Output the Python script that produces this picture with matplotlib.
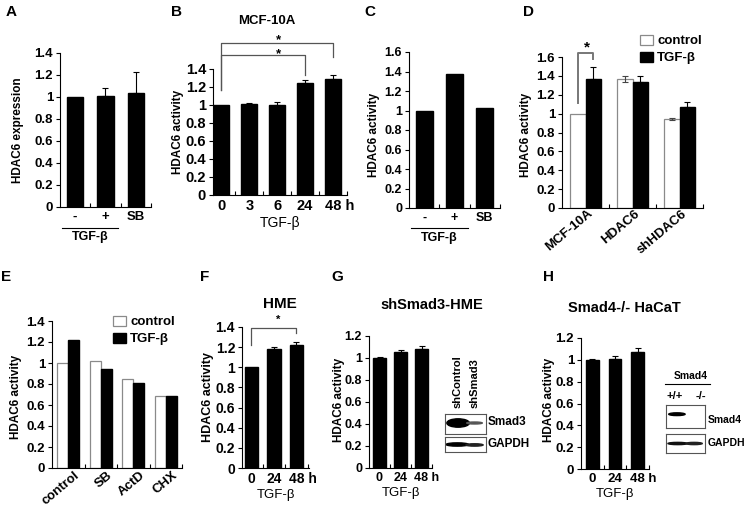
import numpy as np
import matplotlib.pyplot as plt
from matplotlib.patches import Ellipse
from matplotlib.lines import Line2D

W, H = 745, 509
plt.rcParams['font.family'] = ['Liberation Sans', 'DejaVu Sans']
plt.rcParams['font.weight'] = 'bold'
plt.rcParams['axes.linewidth'] = 0.8

# ---- data -------------------------------------------------------------
a_labels = ["-", "+", "SB"]
a_values = [1.0, 1.005, 1.035]
a_err = [0, 0.08, 0.195]

b_labels = ["0", "3", "6", "24", "48 h"]
b_values = [1.0, 1.01, 1.0, 1.25, 1.29]
b_err = [0, 0.01, 0.03, 0.03, 0.04]

c_labels = ["-", "+", "SB"]
c_values = [1.0, 1.37, 1.03]

d_groups = ["MCF-10A", "HDAC6", "shHDAC6"]
d_control = [1.0, 1.37, 0.94]
d_control_err = [0, 0.03, 0.01]
d_tgf = [1.37, 1.335, 1.075]
d_tgf_err = [0.125, 0.06, 0.05]

e_groups = ["control", "SB", "ActD", "CHX"]
e_control = [1.0, 1.02, 0.845, 0.685]
e_tgf = [1.215, 0.945, 0.805, 0.685]

f_labels = ["0", "24", "48 h"]
f_values = [1.0, 1.18, 1.22]
f_err = [0, 0.025, 0.035]

g_labels = ["0", "24", "48 h"]
g_values = [1.0, 1.055, 1.085]
g_err = [0.005, 0.018, 0.028]

h_labels = ["0", "24", "48 h"]
h_values = [1.0, 1.01, 1.075]
h_err = [0.005, 0.025, 0.032]

fig = plt.figure(figsize=(W / 100, H / 100), dpi=100)


def fx(x):
    return x / W


def fy(y):
    return 1 - y / H


def add_ax(l, t, r, b):
    ax = fig.add_axes([fx(l), fy(b), (r - l) / W, (b - t) / H])
    ax.px_width = r - l
    return ax


def style(ax, ymax, ncat, xlim, labels, fs, label_shift=0.0, rot=0, pad=3,
          unit_shift=False):
    ax.set_xlim(*xlim)
    ax.set_ylim(0, ymax)
    yt = np.round(np.arange(0, ymax + 0.01, 0.2), 1)
    ax.set_yticks(yt)
    ax.set_yticklabels([f"{v:g}" for v in yt], fontsize=fs)
    ax.spines[['top', 'right']].set_visible(False)
    ax.set_xticks(np.arange(ncat) + 0.5)
    ax.set_xticklabels([])
    pos = np.arange(ncat) + label_shift
    if unit_shift:
        # keep the number centred on its bar, let the " h" hang to the right
        ppu = ax.px_width / (xlim[1] - xlim[0])
        pos[-1] += 0.44 * fs * 1.389 / ppu
    ax.set_xticks(pos, minor=True)
    if rot:
        ax.set_xticklabels(labels, minor=True, fontsize=fs, rotation=rot,
                           ha='right', va='center', rotation_mode='anchor')
    else:
        ax.set_xticklabels(labels, minor=True, fontsize=fs)
    ax.tick_params(axis='x', which='major', direction='in', length=3, width=0.8)
    ax.tick_params(axis='x', which='minor', length=0, pad=pad)
    ax.tick_params(axis='y', direction='out', length=3, width=0.8, pad=2)


def errs(ax, x, vals, err, sym=False, color='black'):
    x = np.asarray(x, float)
    vals = np.asarray(vals, float)
    err = np.asarray(err, float)
    m = err > 0
    lo = err[m] if sym else np.zeros(m.sum())
    ax.errorbar(x[m], vals[m], yerr=[lo, err[m]], fmt='none', ecolor=color,
                elinewidth=0.8, capsize=2.5, capthick=0.8)


def bracket(ax, x0, x1, y, yl, yr, color='#555555', lw=0.9):
    ax.plot([x0, x0, x1, x1], [yl, y, y, yr], color=color, lw=lw, clip_on=False)


def ylab(x, y, text, fs):
    fig.text(fx(x), fy(y), text, rotation=90, ha='center', va='center', fontsize=fs)


def letter(x, y, s):
    fig.text(fx(x), fy(y), s, ha='center', va='center', fontsize=11)


# ---- A -----------------------------------------------------------------
axA = add_ax(60, 53, 151, 207)
xa = np.arange(len(a_values))
axA.bar(xa, a_values, 0.53, color='black', edgecolor='black')
errs(axA, xa, a_values, a_err)
style(axA, 1.4, 3, (-0.5, 2.5), a_labels, 9.5)
ylab(18, 130, "HDAC6 expression", 8.5)
axA.plot([-0.45, 1.4], [-0.137, -0.137], color='black', lw=0.8,
         transform=axA.get_xaxis_transform(), clip_on=False)
axA.text(0.5, -0.195, "TGF-β", transform=axA.get_xaxis_transform(),
         ha='center', va='center', fontsize=9)
letter(11, 12, "A")

# ---- B -----------------------------------------------------------------
axB = add_ax(213, 69, 347, 195)
xb = np.arange(len(b_values))
axB.bar(xb, b_values, 0.57, color='black', edgecolor='black')
errs(axB, xb, b_values, b_err)
style(axB, 1.4, 5, (-0.3, 4.5), b_labels, 10.5, unit_shift=True)
axB.set_xlabel("TGF-β", fontsize=10, labelpad=2)
ylab(178, 132, "HDAC6 activity", 8.5)
bracket(axB, xb[0], xb[4], 1.69, 1.17, 1.53)
bracket(axB, xb[0], xb[3], 1.556, 1.17, 1.33)
axB.text(2.05, 1.69, "*", ha='center', va='baseline', fontsize=9.5)
axB.text(2.05, 1.53, "*", ha='center', va='baseline', fontsize=9.5)
fig.text(fx(267), fy(21), "MCF-10A", ha='center', va='center', fontsize=9.5)
letter(176, 12, "B")

# ---- C -----------------------------------------------------------------
axC = add_ax(409, 52, 500, 208)
xc = np.arange(len(c_values))
axC.bar(xc, c_values, 0.56, color='black', edgecolor='black')
style(axC, 1.6, 3, (-0.5, 2.5), c_labels, 9)
ylab(374, 135, "HDAC6 activity", 8.5)
axC.plot([-0.45, 1.45], [-0.128, -0.128], color='black', lw=0.8,
         transform=axC.get_xaxis_transform(), clip_on=False)
axC.text(0.5, -0.19, "TGF-β", transform=axC.get_xaxis_transform(),
         ha='center', va='center', fontsize=9)
letter(370, 12, "C")

# ---- D -----------------------------------------------------------------
axD = add_ax(562, 57, 703, 208)
xd = np.arange(len(d_groups))
bw = 0.33
bc = axD.bar(xd - bw / 2, d_control, bw, color='white', edgecolor='#8a8a8a', lw=0.9,
             label='control')
bt = axD.bar(xd + bw / 2, d_tgf, bw, color='black', edgecolor='black', label='TGF-β')
errs(axD, xd - bw / 2, d_control, d_control_err, sym=True, color='#444444')
errs(axD, xd + bw / 2, d_tgf, d_tgf_err)
style(axD, 1.6, 3, (-0.5, 2.5), d_groups, 9.5, label_shift=0.12, rot=40)
ylab(526, 135, "HDAC6 activity", 8.5)
bracket(axD, xd[0] - bw / 2, xd[0] + bw / 2, 1.64, 1.11, 1.58, color='#777777', lw=1.4)
axD.text(xd[0] + 0.03, 1.66, "*", ha='center', va='baseline', fontsize=11)
axD.legend(handles=[bc, bt], loc='upper left', bbox_to_anchor=(0.553, 1.146),
           frameon=False, fontsize=9.5, handlelength=1.0, handleheight=0.75,
           handletextpad=0.3, labelspacing=0.35, borderpad=0, borderaxespad=0)
letter(528, 12, "D")

# ---- E -----------------------------------------------------------------
axE = add_ax(52, 321, 182, 468)
xe = np.arange(len(e_groups))
bw = 0.34
ec = axE.bar(xe - bw / 2, e_control, bw, color='white', edgecolor='#8a8a8a', lw=0.9,
             label='control')
et = axE.bar(xe + bw / 2, e_tgf, bw, color='black', edgecolor='black', label='TGF-β')
style(axE, 1.4, 4, (-0.5, 3.5), e_groups, 9.5, label_shift=0.3, rot=40, pad=4)
ylab(16, 397, "HDAC6 activity", 8.5)
axE.legend(handles=[ec, et], loc='upper left', bbox_to_anchor=(0.469, 1.034),
           frameon=False, fontsize=9.5, handlelength=1.0, handleheight=0.75,
           handletextpad=0.3, labelspacing=0.35, borderpad=0, borderaxespad=0)
letter(6, 277, "E")

# ---- F -----------------------------------------------------------------
axF = add_ax(242, 327, 309, 468)
xf = np.arange(len(f_values))
axF.bar(xf, f_values, 0.6, color='black', edgecolor='black')
errs(axF, xf, f_values, f_err)
style(axF, 1.4, 3, (-0.42, 2.56), f_labels, 10, unit_shift=True)
axF.set_xlabel("TGF-β", fontsize=9.5, labelpad=2)
ylab(208, 397, "HDAC6 activity", 9)
bracket(axF, xf[0], xf[2], 1.39, 1.22, 1.34)
axF.text(1.2, 1.47, "*", ha='center', va='center', fontsize=8)
fig.text(fx(280), fy(304), "HME", ha='center', va='center', fontsize=11)
letter(205, 277, "F")

# ---- G -----------------------------------------------------------------
axG = add_ax(369, 336, 432, 468)
xg = np.arange(len(g_values))
axG.bar(xg, g_values, 0.62, color='black', edgecolor='black')
errs(axG, xg, g_values, g_err)
style(axG, 1.2, 3, (-0.5, 2.4), g_labels, 9, unit_shift=True)
axG.set_xlabel("TGF-β", fontsize=9.5, labelpad=2)
ylab(339, 400, "HDAC6 activity", 8.5)
fig.text(fx(432), fy(305), "shSmad3-HME", ha='center', va='center', fontsize=10.5)
letter(337, 277, "G")

g1 = add_ax(445, 414, 486, 434)
g2 = add_ax(445, 437, 486, 452)
for bax in (g1, g2):
    bax.set_xlim(0, 1)
    bax.set_ylim(0, 1)
    bax.set_xticks([])
    bax.set_yticks([])
    for s in bax.spines.values():
        s.set_color('#555555')
        s.set_linewidth(0.8)
g1.add_patch(Ellipse((0.32, 0.55), 0.55, 0.42, color='black'))
g1.add_patch(Ellipse((0.72, 0.55), 0.38, 0.1, color='#555555'))
g2.add_patch(Ellipse((0.3, 0.5), 0.55, 0.22, color='black'))
g2.add_patch(Ellipse((0.72, 0.47), 0.42, 0.16, color='#222222'))
fig.text(fx(458), fy(408), "shControl", rotation=90, ha='center', va='bottom', fontsize=8)
fig.text(fx(475), fy(408), "shSmad3", rotation=90, ha='center', va='bottom', fontsize=8)
fig.text(fx(488), fy(422), "Smad3", ha='left', va='center', fontsize=8.5)
fig.text(fx(488), fy(444), "GAPDH", ha='left', va='center', fontsize=8.5)

# ---- H -----------------------------------------------------------------
axH = add_ax(581, 338, 649, 469)
xh = np.arange(len(h_values))
axH.bar(xh, h_values, 0.55, color='black', edgecolor='black')
errs(axH, xh, h_values, h_err)
style(axH, 1.2, 3, (-0.5, 2.45), h_labels, 9.5, unit_shift=True)
axH.set_xlabel("TGF-β", fontsize=9.5, labelpad=2)
ylab(549, 400, "HDAC6 activity", 8.5)
fig.text(fx(624), fy(308), "Smad4-/- HaCaT", ha='center', va='center', fontsize=10.5)
letter(548, 277, "H")

h1 = add_ax(666, 405, 705, 428)
h2 = add_ax(666, 434, 705, 453)
for bax in (h1, h2):
    bax.set_xlim(0, 1)
    bax.set_ylim(0, 1)
    bax.set_xticks([])
    bax.set_yticks([])
    for s in bax.spines.values():
        s.set_color('#555555')
        s.set_linewidth(0.8)
h1.add_patch(Ellipse((0.28, 0.6), 0.42, 0.12, color='black'))
h2.add_patch(Ellipse((0.3, 0.5), 0.5, 0.12, color='#111111'))
h2.add_patch(Ellipse((0.72, 0.5), 0.42, 0.12, color='#222222'))
fig.text(fx(691), fy(376), "Smad4", ha='center', va='center', fontsize=7.5)
fig.add_artist(Line2D([fx(665), fx(710)], [fy(384), fy(384)], color='black', lw=0.8))
fig.text(fx(675), fy(396), "+/+", ha='center', va='center', fontsize=8)
fig.text(fx(701), fy(396), "-/-", ha='center', va='center', fontsize=8)
fig.text(fx(708), fy(420), "Smad4", ha='left', va='center', fontsize=7.5)
fig.text(fx(708), fy(443), "GAPDH", ha='left', va='center', fontsize=7.5)

fig.savefig("out.png", dpi=100)
